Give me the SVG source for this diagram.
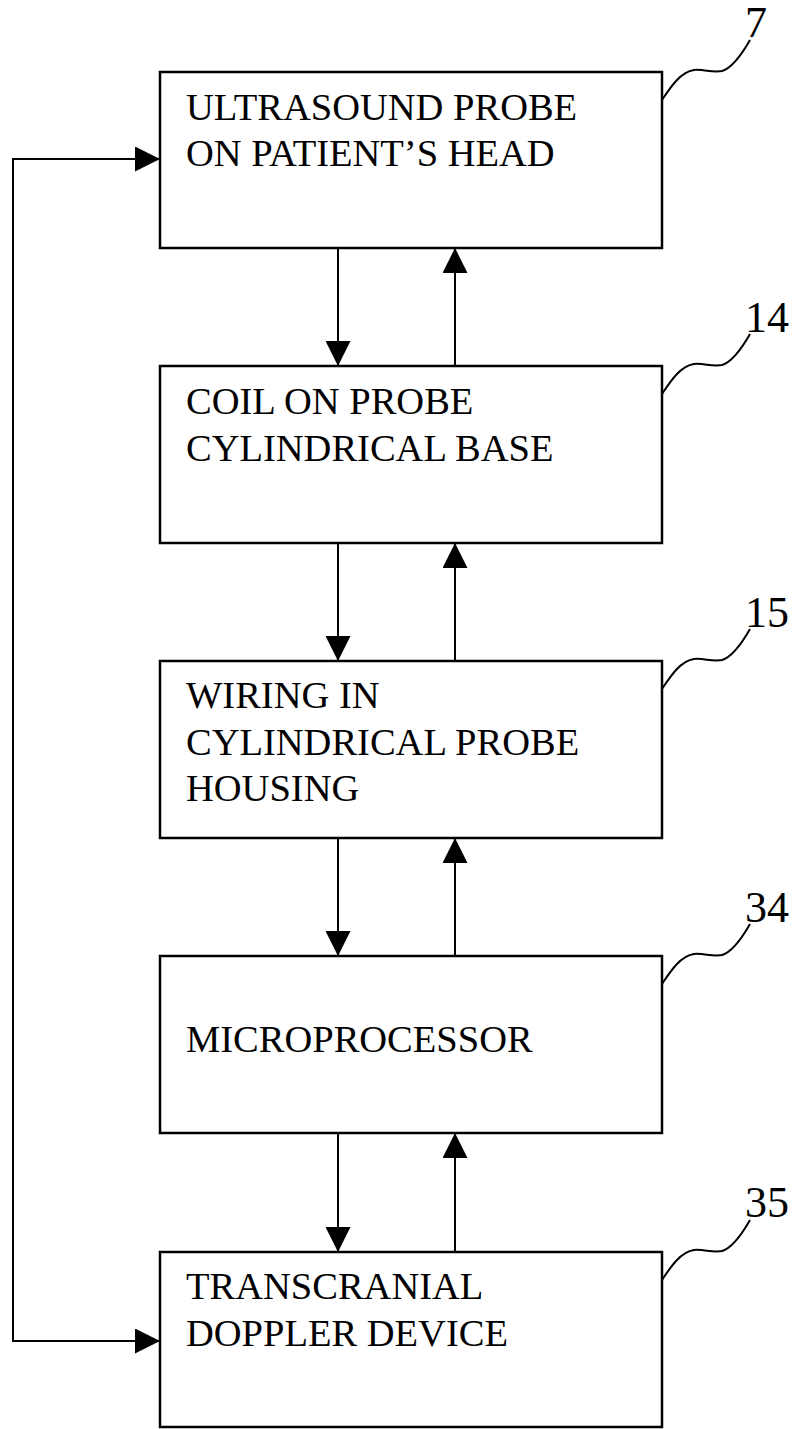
<svg xmlns="http://www.w3.org/2000/svg" width="793" height="1429" viewBox="0 0 793 1429">
<style>
.box{fill:#fff;stroke:#000;stroke-width:2.5}
.t{font-family:"Liberation Serif","Times New Roman",serif;font-size:38.5px;fill:#000}
.lbl{font-family:"Liberation Serif","Times New Roman",serif;font-size:44px;fill:#000}
.c{fill:none;stroke:#000;stroke-width:2}
.sq{fill:none;stroke:#000;stroke-width:2}
</style>
<defs>
<marker id="ah" markerUnits="userSpaceOnUse" markerWidth="25" markerHeight="25" refX="25" refY="12.5" orient="auto-start-reverse" viewBox="0 0 25 25">
<path d="M0,0 L25,12.5 L0,25 z" fill="#000"/>
</marker>
</defs>
<rect width="793" height="1429" fill="#fff"/>
<g id="connectors">
<line class="c" x1="338" y1="248" x2="338" y2="366" marker-end="url(#ah)"/>
<line class="c" x1="455" y1="366" x2="455" y2="248" marker-end="url(#ah)"/>
<line class="c" x1="338" y1="543" x2="338" y2="661" marker-end="url(#ah)"/>
<line class="c" x1="455" y1="661" x2="455" y2="543" marker-end="url(#ah)"/>
<line class="c" x1="338" y1="838" x2="338" y2="956" marker-end="url(#ah)"/>
<line class="c" x1="455" y1="956" x2="455" y2="838" marker-end="url(#ah)"/>
<line class="c" x1="338" y1="1133" x2="338" y2="1252" marker-end="url(#ah)"/>
<line class="c" x1="455" y1="1252" x2="455" y2="1133" marker-end="url(#ah)"/>
<path class="c" d="M160,159 H13 V1341 H160" marker-start="url(#ah)" marker-end="url(#ah)"/>
</g>
<g id="node7">
<rect class="box" x="160" y="72" width="502" height="176"/>
<text class="t" x="186" y="120">ULTRASOUND PROBE</text>
<text class="t" x="186" y="166">ON PATIENT’S HEAD</text>
<path class="sq" d="M662,100 C670,88 680,72 694,70 C704,69 712,73 722,71 C732,68 742,54 750,40"/>
<text class="lbl" x="745" y="37">7</text>
</g>
<g id="node14">
<rect class="box" x="160" y="366" width="502" height="177"/>
<text class="t" x="186" y="414">COIL ON PROBE</text>
<text class="t" x="186" y="461">CYLINDRICAL BASE</text>
<path class="sq" d="M662,394 C670,382 680,366 694,364 C704,363 712,367 722,365 C732,362 742,348 750,334"/>
<text class="lbl" x="745" y="332">14</text>
</g>
<g id="node15">
<rect class="box" x="160" y="661" width="502" height="177"/>
<text class="t" x="186" y="708">WIRING IN</text>
<text class="t" x="186" y="755">CYLINDRICAL PROBE</text>
<text class="t" x="186" y="801">HOUSING</text>
<path class="sq" d="M662,689 C670,677 680,661 694,659 C704,658 712,662 722,660 C732,657 742,643 750,629"/>
<text class="lbl" x="745" y="627">15</text>
</g>
<g id="node34">
<rect class="box" x="160" y="956" width="502" height="177"/>
<text class="t" x="186" y="1052">MICROPROCESSOR</text>
<path class="sq" d="M662,984 C670,972 680,956 694,954 C704,953 712,957 722,955 C732,952 742,938 750,924"/>
<text class="lbl" x="745" y="922">34</text>
</g>
<g id="node35">
<rect class="box" x="160" y="1252" width="502" height="175"/>
<text class="t" x="186" y="1299">TRANSCRANIAL</text>
<text class="t" x="186" y="1346">DOPPLER DEVICE</text>
<path class="sq" d="M662,1280 C670,1268 680,1252 694,1250 C704,1249 712,1253 722,1251 C732,1248 742,1234 750,1220"/>
<text class="lbl" x="745" y="1217">35</text>
</g>
</svg>
